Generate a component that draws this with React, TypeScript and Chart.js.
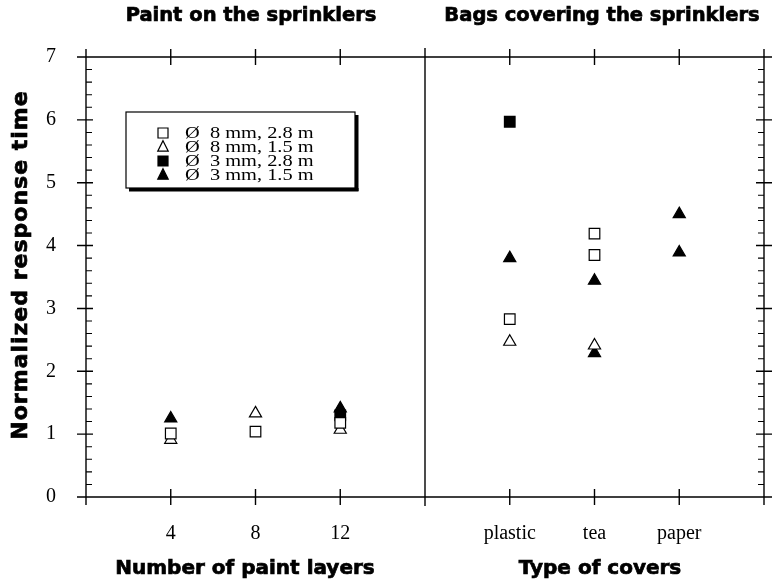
import React, { useEffect, useRef } from "react";
import { Chart, registerables } from "chart.js";

Chart.register(...registerables);

// ---- data ----
const xTickValues = [4, 8, 12, 20, 24, 28];
const xTickLabels = ["4", "8", "12", "plastic", "tea", "paper"];
const xMin = 0;
const xMax = 32;
const xStep = 4;
const panelDivider = 16;
const yMin = 0;
const yMax = 7;

const panelTitles = ["Paint on the sprinklers", "Bags covering the sprinklers"];
const xAxisTitles = ["Number of paint layers", "Type of covers"];
const yAxisTitle = "Normalized response time";

const seriesLabels = ["Ø  8 mm, 2.8 m", "Ø  8 mm, 1.5 m", "Ø  3 mm, 2.8 m", "Ø  3 mm, 1.5 m"];

const openSquareX = [4, 8, 12, 20, 24, 24];
const openSquareY = [1.01, 1.04, 1.18, 2.83, 4.19, 3.85];
const openTriangleX = [4, 8, 12, 20, 24];
const openTriangleY = [0.91, 1.33, 1.07, 2.47, 2.41];
const filledSquareX = [12, 20];
const filledSquareY = [1.3, 5.97];
const filledTriangleX = [4, 12, 20, 24, 24, 28, 28];
const filledTriangleY = [1.25, 1.41, 3.8, 3.44, 2.29, 4.5, 3.89];

const toPts = (xs: number[], ys: number[]) => xs.map((x, i) => ({ x, y: ys[i] }));

const markerDefs = [
  { style: "rect", filled: false, r: 7.5 },
  { style: "triangle", filled: false, r: 7 },
  { style: "rect", filled: true, r: 7.5 },
  { style: "triangle", filled: true, r: 7 },
];

function drawMarker(ctx: CanvasRenderingContext2D, style: string, filled: boolean, cx: number, cy: number, s: number) {
  ctx.beginPath();
  if (style === "rect") {
    ctx.rect(cx - s / 2, cy - s / 2, s, s);
  } else {
    ctx.moveTo(cx, cy - s * 0.6);
    ctx.lineTo(cx + s / 2, cy + s * 0.4);
    ctx.lineTo(cx - s / 2, cy + s * 0.4);
    ctx.closePath();
  }
  ctx.fillStyle = filled ? "#000" : "#fff";
  ctx.fill();
  ctx.lineWidth = 1.2;
  ctx.strokeStyle = "#000";
  ctx.stroke();
}

function boldText(ctx: CanvasRenderingContext2D, t: string, x: number, y: number) {
  ctx.fillText(t, x, y);
  ctx.strokeText(t, x, y);
}

const framePlugin = {
  id: "frame",
  beforeDatasetsDraw(chart: any) {
    const { ctx, chartArea: a, scales } = chart;
    const x = scales.x;
    const y = scales.y;
    ctx.save();
    ctx.strokeStyle = "#000";
    ctx.lineWidth = 1.4;
    ctx.beginPath();
    ctx.rect(a.left, a.top, a.right - a.left, a.bottom - a.top);
    const xd = x.getPixelForValue(panelDivider);
    ctx.moveTo(xd, a.top - 9);
    ctx.lineTo(xd, a.bottom + 9);
    for (let v = xMin; v <= xMax; v += xStep) {
      const px = x.getPixelForValue(v);
      ctx.moveTo(px, a.bottom - 8);
      ctx.lineTo(px, a.bottom + 8);
      ctx.moveTo(px, a.top - 8);
      ctx.lineTo(px, a.top + 8);
    }
    for (let v = yMin; v <= yMax; v += 1) {
      const py = y.getPixelForValue(v);
      ctx.moveTo(a.left - 9, py);
      ctx.lineTo(a.left + 7, py);
      ctx.moveTo(a.right - 8, py);
      ctx.lineTo(a.right + 8, py);
    }
    ctx.stroke();
    ctx.lineWidth = 1.1;
    ctx.beginPath();
    for (let k = 1; k < (yMax - yMin) * 5; k++) {
      if (k % 5 === 0) continue;
      const py = y.getPixelForValue(yMin + k * 0.2);
      ctx.moveTo(a.left, py);
      ctx.lineTo(a.left + 6, py);
      ctx.moveTo(a.right - 6, py);
      ctx.lineTo(a.right, py);
    }
    ctx.stroke();
    ctx.restore();
  },
  afterDraw(chart: any) {
    const { ctx } = chart;
    ctx.save();
    // titles
    ctx.fillStyle = "#000";
    ctx.strokeStyle = "#000";
    ctx.lineWidth = 0.7;
    ctx.font = "bold 19.5px 'DejaVu Sans'";
    ctx.textAlign = "center";
    ctx.textBaseline = "alphabetic";
    boldText(ctx, panelTitles[0], 251, 21);
    boldText(ctx, panelTitles[1], 602, 21);
    ctx.font = "bold 20px 'DejaVu Sans'";
    boldText(ctx, xAxisTitles[0], 245, 574);
    boldText(ctx, xAxisTitles[1], 600, 574);
    ctx.save();
    ctx.translate(27, 265);
    ctx.rotate(-Math.PI / 2);
    ctx.font = "bold 22px 'DejaVu Sans'";
    (ctx as any).letterSpacing = "1px";
    boldText(ctx, yAxisTitle, 0, 0);
    ctx.restore();

    // legend box
    const bx = 126, by = 112, bw = 229, bh = 76;
    ctx.fillStyle = "#fff";
    ctx.fillRect(bx, by, bw, bh);
    ctx.strokeStyle = "#000";
    ctx.lineWidth = 1.2;
    ctx.strokeRect(bx, by, bw, bh);
    ctx.fillStyle = "#000";
    ctx.fillRect(bx + bw, by + 3, 3.5, bh);
    ctx.fillRect(bx + 3, by + bh, bw + 0.5, 3.5);

    const rowY = [133, 147, 161, 175];
    seriesLabels.forEach((lab, i) => {
      const m = markerDefs[i];
      drawMarker(ctx, m.style, m.filled, 163, rowY[i], m.style === "rect" ? 10 : 10.5);
      ctx.save();
      ctx.translate(185, rowY[i]);
      ctx.scale(1.2, 1);
      ctx.font = "17px 'Liberation Serif'";
      ctx.textAlign = "left";
      ctx.textBaseline = "middle";
      ctx.fillStyle = "#000";
      ctx.fillText(lab, 0, 1);
      ctx.restore();
    });
    ctx.restore();
  },
};

export default function App() {
  const ref = useRef<HTMLCanvasElement | null>(null);
  useEffect(() => {
    if (!ref.current) return;
    const datasets = [
      toPts(openSquareX, openSquareY),
      toPts(openTriangleX, openTriangleY),
      toPts(filledSquareX, filledSquareY),
      toPts(filledTriangleX, filledTriangleY),
    ].map((data, i) => ({
      label: seriesLabels[i],
      data,
      pointStyle: markerDefs[i].style,
      pointRadius: markerDefs[i].r,
      pointHoverRadius: markerDefs[i].r,
      backgroundColor: markerDefs[i].filled ? "#000" : "#fff",
      borderColor: "#000",
      borderWidth: 1.2,
      showLine: false,
    }));
    const chart = new Chart(ref.current, {
      type: "scatter",
      data: { datasets: datasets as any },
      plugins: [framePlugin],
      options: {
        animation: false,
        responsive: false,
        devicePixelRatio: 1,
        layout: { padding: { top: 57, right: 9, left: 0, bottom: 0 } },
        plugins: { legend: { display: false }, tooltip: { enabled: false } },
        scales: {
          x: {
            type: "linear",
            min: xMin,
            max: xMax,
            grid: { display: false, drawTicks: false },
            border: { display: false },
            afterBuildTicks: (s: any) => {
              s.ticks = xTickValues.map((v) => ({ value: v }));
            },
            afterFit: (s: any) => {
              s.height = 83;
              s.paddingLeft = 0;
              s.paddingRight = 0;
            },
            ticks: {
              autoSkip: false,
              maxRotation: 0,
              padding: 25,
              color: "#000",
              font: { family: "'Liberation Serif'", size: 20 },
              callback: (v: any) => {
                const i = xTickValues.indexOf(Number(v));
                return i >= 0 ? xTickLabels[i] : "";
              },
            },
          },
          y: {
            min: yMin,
            max: yMax,
            grid: { display: false, drawTicks: false },
            border: { display: false },
            afterFit: (s: any) => {
              s.width = 86;
              s.paddingTop = 0;
              s.paddingBottom = 0;
            },
            ticks: {
              stepSize: 1,
              padding: 30,
              color: "#000",
              font: { family: "'Liberation Serif'", size: 20 },
            },
          },
        },
      } as any,
    });
    return () => chart.destroy();
  }, []);
  return (
    <div style={{ position: "absolute", left: 0, top: 0, width: 773, height: 580, background: "#fff" }}>
      <canvas ref={ref} width={773} height={580} style={{ display: "block", width: 773, height: 580 }} />
    </div>
  );
}
